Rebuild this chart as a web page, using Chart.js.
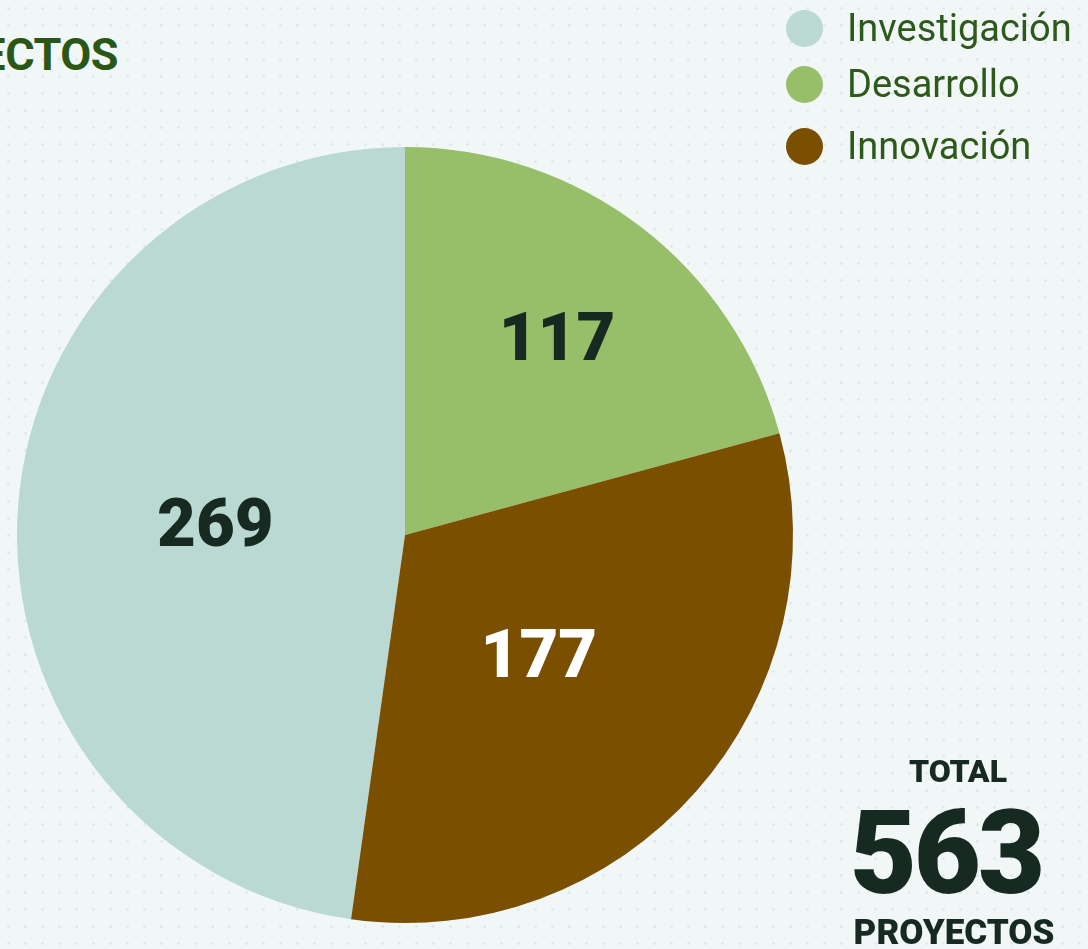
<!DOCTYPE html>
<html lang="es">
<head>
<meta charset="utf-8">
<script src="https://cdn.jsdelivr.net/npm/chart.js@4/dist/chart.umd.min.js"></script>
<style>
    html, body { margin: 0; padding: 0; }
    body {
        width: 1088px; height: 949px; overflow: hidden; position: relative;
        background-color: #f1f7f7;
        background-image: radial-gradient(circle, #dfe9e9 1.2px, transparent 1.6px);
        background-size: 17px 17px;
        font-family: Roboto, "Noto Sans", sans-serif;
    }
    #chart-wrap { position: absolute; left: 0; top: 0; width: 1088px; height: 949px; }
    .title {
        position: absolute; right: calc(100% - 118px); top: 28px;
        font-size: 45px; font-weight: 700; color: #2b5716; white-space: nowrap;
        letter-spacing: -0.5px;
    }
    #legend { position: absolute; left: 786px; top: 0px; list-style: none; margin: 0; padding: 0; }
    #legend li { display: flex; align-items: center; height: 56px; font-size: 38px; color: #2d5a1a; }
    #legend li span.dot { width: 37px; height: 37px; border-radius: 50%; margin-right: 24px; flex: none; }
    .total { position: absolute; left: 838px; width: 240px; text-align: center; color: #172a22; font-weight: 900; }
</style>
</head>
<body>
<div class="title">PROYECTOS</div>
<div id="chart-wrap"><canvas id="pie"></canvas></div>
<ul id="legend"></ul>
<div class="total" style="top:752px;font-size:32px;">TOTAL</div>
<div class="total" style="top:785px;left:826px;font-size:116px;letter-spacing:-3px;line-height:136px;" id="total-num"></div>
<div class="total" style="top:912px;left:834px;font-size:35px;">PROYECTOS</div>

<script>
// categorias y valores del grafico
const categories = ['Investigación', 'Desarrollo', 'Innovación'];
const projectCounts = [269, 117, 177];
const sliceColors = ['#b9d9d2', '#97bf6a', '#7a4f00'];
const labelColors = ['#172a22', '#172a22', '#ffffff'];
const labelRadius = [0.49, 0.645, 0.46]; // fraccion del radio para cada etiqueta

const total = projectCounts.reduce((a, b) => a + b, 0);
document.getElementById('total-num').textContent = total;

// leyenda en html
const legendEl = document.getElementById('legend');
categories.forEach((name, i) => {
    const li = document.createElement('li');
    li.innerHTML = '<span class="dot" style="background:' + sliceColors[i] + '"></span>' + name;
    if (i === 2) li.style.marginTop = '6px';
    legendEl.appendChild(li);
});

// dibuja los valores dentro de cada porcion
const sliceValues = {
    id: 'sliceValues',
    afterDatasetsDraw(chart) {
        const ctx = chart.ctx;
        const meta = chart.getDatasetMeta(0);
        ctx.save();
        ctx.font = '900 67px Roboto';
        ctx.textAlign = 'center';
        ctx.textBaseline = 'alphabetic';
        meta.data.forEach((arc, i) => {
            const p = arc.getProps(['x', 'y', 'startAngle', 'endAngle', 'outerRadius'], true);
            const mid = (p.startAngle + p.endAngle) / 2;
            const r = p.outerRadius * labelRadius[i];
            ctx.fillStyle = labelColors[i];
            ctx.fillText(projectCounts[i], p.x + Math.cos(mid) * r, p.y + Math.sin(mid) * r + 24);
        });
        ctx.restore();
    }
};

new Chart(document.getElementById('pie'), {
    type: 'pie',
    data: {
        labels: categories,
        datasets: [{
            data: projectCounts,
            backgroundColor: sliceColors,
            borderWidth: 0
        }]
    },
    options: {
        responsive: true,
        maintainAspectRatio: false,
        animation: false,
        rotation: -projectCounts[0] / total * 360,
        layout: { padding: { left: 17, right: 295, top: 147, bottom: 26 } },
        plugins: {
            legend: { display: false },
            tooltip: { enabled: false }
        }
    },
    plugins: [sliceValues]
});
</script>
</body>
</html>
